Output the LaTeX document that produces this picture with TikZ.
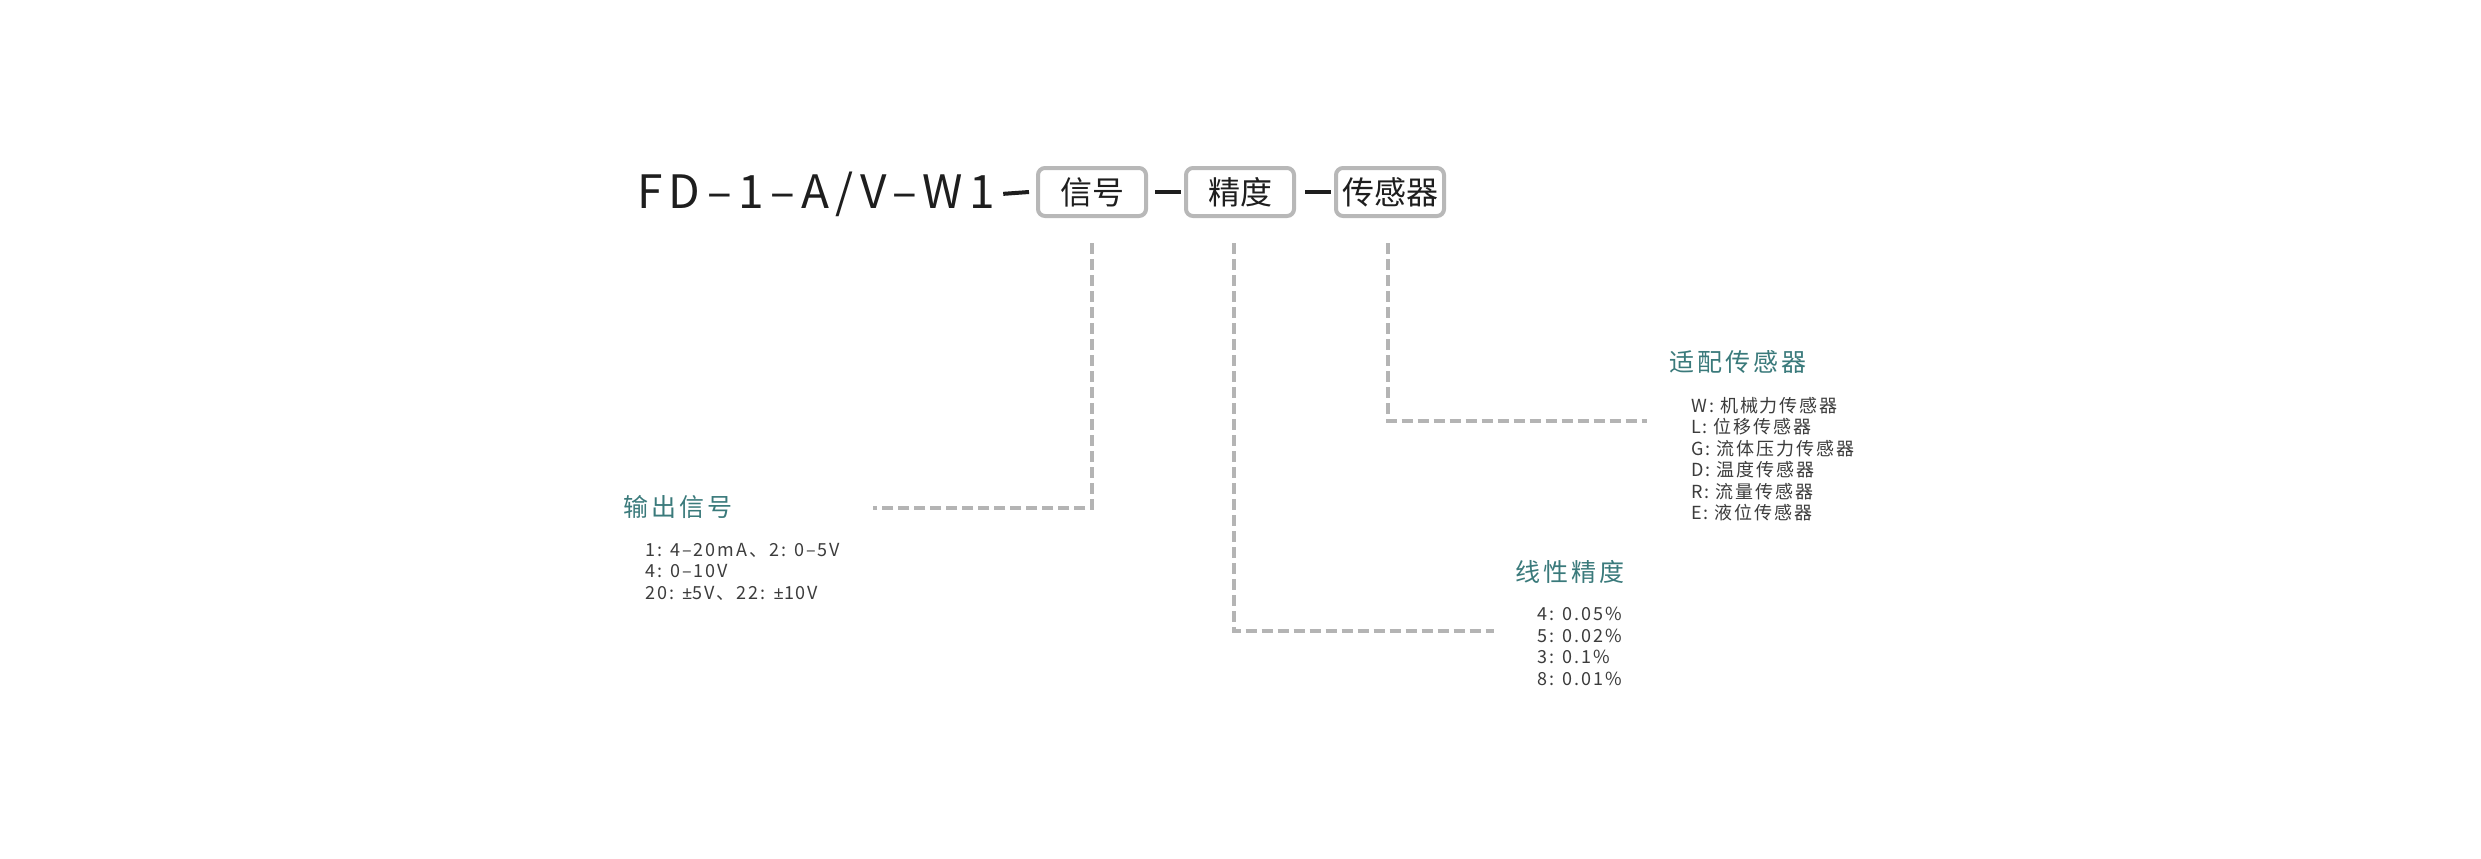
\documentclass[tikz,border=0pt]{standalone}
\usepackage{fontspec}
\usetikzlibrary{positioning}
\setmainfont{Noto Sans CJK SC}
\newfontfamily\titlefont{Noto Sans CJK SC}[LetterSpace=14]
\newfontfamily\headfont{Noto Sans CJK SC}[LetterSpace=12]
\newfontfamily\listfont{Noto Sans CJK SC}[LetterSpace=11]
\newfontfamily\pmfont{Noto Sans}[LetterSpace=11]
\newcommand{\plusmin}{{\pmfont ±}}
\definecolor{headteal}{HTML}{3A7A7B}
\definecolor{boxgray}{HTML}{B8B8B8}
\definecolor{leadgray}{HTML}{B4B4B4}
\definecolor{listgray}{HTML}{3C3C3C}
\definecolor{titleblack}{HTML}{1E1E1E}

\begin{document}
\begin{tikzpicture}[x=1pt,y=-1pt]

\tikzset{titletext/.style={inner sep=0pt, text=titleblack, font=\titlefont\fontsize{46}{55}\selectfont}}
\tikzset{field/.style={rectangle, rounded corners=7pt, draw=boxgray, line width=4pt, minimum width=108pt, minimum height=48pt, inner sep=0pt, text=titleblack, font=\fontsize{32}{38}\selectfont}}
\tikzset{link/.style={line width=4pt, titleblack}}
\tikzset{leader/.style={line width=4pt, leadgray, dash pattern=on 11pt off 5pt}}
\tikzset{headtext/.style={inner sep=0pt, anchor=west, text=headteal, font=\headfont\fontsize{25}{30}\selectfont}}
\tikzset{listtext/.style={inner sep=0pt, anchor=north west, align=left, text=listgray, font=\listfont\fontsize{18}{21.5}\selectfont}}

% page
\fill [white] (0,0) rectangle (2481,859);
\useasboundingbox (0,0) rectangle (2481,859);

% Define nodes
\node (code) [titletext, anchor=base west] at (637,208) {FD–1–A/V–W1};
\node (sig) [field] at (1092,192) {信号};
\node (acc) [field, right=36pt of sig] {精度};
\node (sen) [field, right=38pt of acc] {传感器};

\node (outhead) [headtext] at (623,507) {输出信号};
\node (acchead) [headtext] at (1515,572) {线性精度};
\node (senhead) [headtext] at (1669,362) {适配传感器};

\node (outlist) [listtext] at (645,543) {1: 4–20mA、2: 0–5V\\4: 0–10V\\20: \plusmin5V、22: \plusmin10V};
\node (acclist) [listtext] at (1537,607) {4: 0.05\%\\5: 0.02\%\\3: 0.1\%\\8: 0.01\%};
\node (senlist) [listtext] at (1691,397) {W: 机械力传感器\\L: 位移传感器\\G: 流体压力传感器\\D: 温度传感器\\R: 流量传感器\\E: 液位传感器};

\coordinate (outend) at (873,508);
\coordinate (accend) at (1494,631);
\coordinate (senend) at (1647,421);

% Draw links
\draw [link] ([xshift=8pt]code.east) -- ([xshift=-7pt]sig.west);
\draw [link] ([xshift=7pt]sig.east) -- ([xshift=-3pt]acc.west);
\draw [link] ([xshift=9pt]acc.east) -- ([xshift=-3pt]sen.west);

% Draw leaders
\draw [leader] ([yshift=-25pt]sig.south) |- (outend);
\draw [leader] ([xshift=-6.5pt, yshift=-25pt]acc.south) |- (accend);
\draw [leader] ([xshift=-2.5pt, yshift=-25pt]sen.south) |- (senend);

\end{tikzpicture}
\end{document}
